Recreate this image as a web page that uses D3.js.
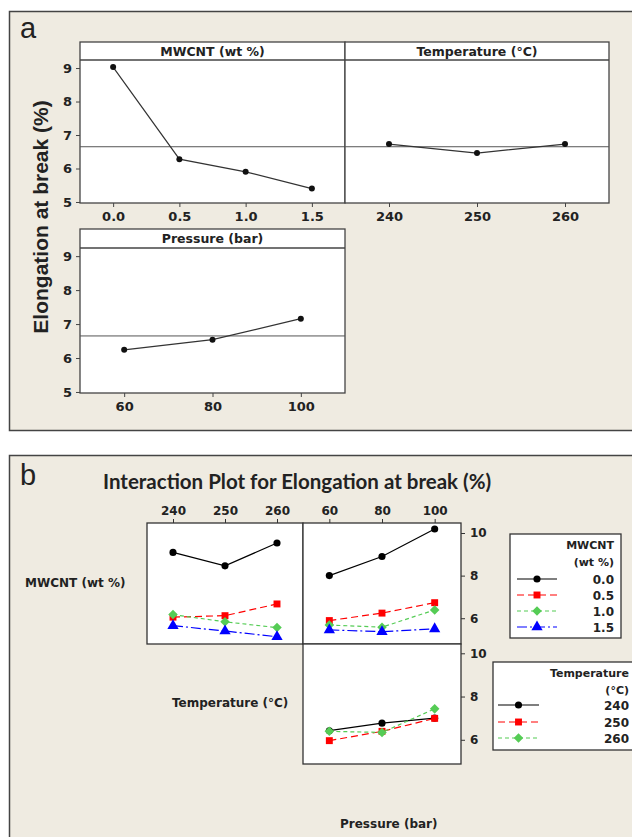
<!DOCTYPE html>
<html>
<head>
<meta charset="utf-8">
<script src="https://cdn.jsdelivr.net/npm/d3@7"></script>
<style>
  body { margin: 0; background: #fff; }
  svg text { font-family: "DejaVu Sans", sans-serif; font-weight: bold; fill: #222; }
</style>
</head>
<body>
<div id="chart"></div>
<script>
// ---- data ----
const mwcntLevels = ["0.0", "0.5", "1.0", "1.5"];
const tempLevels = ["240", "250", "260"];
const pressLevels = ["60", "80", "100"];

// main effects, panel a
const mainMwcnt = [9.03, 6.28, 5.90, 5.40];
const mainTemp = [6.73, 6.46, 6.73];
const mainPress = [6.24, 6.54, 7.16];
const grandMean = 6.65;
const mainTicks = [5, 6, 7, 8, 9];

// interaction means, panel b (rows = series level, cols = x level)
const mwcntByTemp = [[9.09, 8.46, 9.53], [6.05, 6.12, 6.67], [6.17, 5.83, 5.56], [5.65, 5.40, 5.13]];
const mwcntByPress = [[8.00, 8.90, 10.19], [5.89, 6.24, 6.73], [5.68, 5.58, 6.39], [5.45, 5.37, 5.50]];
const tempByPress = [[6.42, 6.77, 7.00], [5.96, 6.39, 6.99], [6.39, 6.34, 7.43]];
const interTicks = [6, 8, 10];

// series styles
const colors = ["#000000", "#ff0000", "#55cc55", "#0000ff"];
const dashes = [null, "7,4", "4,3", "10,3,2,3"];
const symbols = [d3.symbolCircle, d3.symbolSquare, d3.symbolDiamond2 || d3.symbolDiamond, d3.symbolTriangle];
const symSize = [40, 48, 58, 55];

const W = 632, H = 837;
const bg = "#efebe1";
const fmt = d3.format("d");
const svg = d3.select("#chart").append("svg").attr("width", W).attr("height", H);

// ---------- panel a ----------
svg.append("rect").attr("x", 9.5).attr("y", 11.5).attr("width", 640).attr("height", 419)
  .attr("fill", bg).attr("stroke", "#444").attr("stroke-width", 1.5);
svg.append("text").attr("x", 20).attr("y", 38).attr("font-size", 29)
  .style("font-family", "Liberation Sans, Arial, sans-serif").style("font-weight", "normal").text("a");

const mainY = (top, bottom) => d3.scaleLinear().domain([4.97, 9.24]).range([bottom, top]);

function mainPanel(x0, x1, boxTop, headTop, bottom, levels, values, title, leftAxis) {
  const g = svg.append("g");
  const x = d3.scalePoint().domain(levels).range([x0, x1]).padding(0.5);
  const y = mainY(headTop, bottom);
  g.append("rect").attr("x", x0).attr("y", boxTop).attr("width", x1 - x0).attr("height", bottom - boxTop)
    .attr("fill", "#fff").attr("stroke", "#444").attr("stroke-width", 1.3);
  g.append("line").attr("x1", x0).attr("x2", x1).attr("y1", headTop).attr("y2", headTop)
    .attr("stroke", "#444").attr("stroke-width", 1.3);
  g.append("text").attr("x", (x0 + x1) / 2).attr("y", (boxTop + headTop) / 2 + 4.5)
    .attr("text-anchor", "middle").attr("font-size", 12.5).text(title);
  g.append("line").attr("x1", x0).attr("x2", x1).attr("y1", y(grandMean)).attr("y2", y(grandMean))
    .attr("stroke", "#555").attr("stroke-width", 1);
  const pts = levels.map((l, i) => [x(l), y(values[i])]);
  g.append("path").attr("d", d3.line()(pts)).attr("fill", "none").attr("stroke", "#333").attr("stroke-width", 1.2);
  g.selectAll("circle.pt").data(pts).join("circle").attr("cx", d => d[0]).attr("cy", d => d[1])
    .attr("r", 3).attr("fill", "#111");
  const xa = g.append("g").attr("transform", `translate(0,${bottom})`)
    .call(d3.axisBottom(x).tickSize(4).tickPadding(5));
  xa.select(".domain").remove();
  xa.selectAll("text").attr("font-size", 13).attr("fill", "#222");
  xa.selectAll("line").attr("stroke", "#444");
  if (leftAxis) {
    const ya = g.append("g").attr("transform", `translate(${x0},0)`)
      .call(d3.axisLeft(y).tickValues(mainTicks).tickFormat(fmt).tickSize(4).tickPadding(4));
    ya.select(".domain").remove();
    ya.selectAll("text").attr("font-size", 13).attr("fill", "#222");
    ya.selectAll("line").attr("stroke", "#444");
  }
}

mainPanel(80, 345, 42, 60, 203, mwcntLevels, mainMwcnt, "MWCNT (wt %)", true);
mainPanel(345, 609, 42, 60, 203, tempLevels, mainTemp, "Temperature (°C)", false);
mainPanel(80, 345, 229, 248, 393, pressLevels, mainPress, "Pressure (bar)", true);

svg.append("text").attr("transform", "translate(48,217) rotate(-90)").attr("text-anchor", "middle")
  .attr("font-size", 21).style("font-family", "Liberation Sans, Arial, sans-serif")
  .text("Elongation at break (%)");

// ---------- panel b ----------
svg.append("rect").attr("x", 9.5).attr("y", 455.5).attr("width", 640).attr("height", 400)
  .attr("fill", bg).attr("stroke", "#444").attr("stroke-width", 1.5);
svg.append("text").attr("x", 20).attr("y", 485).attr("font-size", 29)
  .style("font-family", "Liberation Sans, Arial, sans-serif").style("font-weight", "normal").text("b");
svg.append("text").attr("x", 103).attr("y", 489).attr("font-size", 20.5)
  .style("font-family", "Lato, sans-serif").style("font-weight", "bold")
  .text("Interaction Plot for Elongation at break (%)");

function interPanel(x0, x1, top, bottom, domain, levels, rows, topAxis) {
  const g = svg.append("g");
  const x = d3.scalePoint().domain(levels).range([x0, x1]).padding(0.5);
  const y = d3.scaleLinear().domain(domain).range([bottom, top]);
  g.append("rect").attr("x", x0).attr("y", top).attr("width", x1 - x0).attr("height", bottom - top)
    .attr("fill", "#fff").attr("stroke", "#333").attr("stroke-width", 1.3);
  rows.forEach((vals, s) => {
    const pts = levels.map((l, i) => [x(l), y(vals[i])]);
    g.append("path").attr("d", d3.line()(pts)).attr("fill", "none")
      .attr("stroke", colors[s]).attr("stroke-width", 1.2).attr("stroke-dasharray", dashes[s]);
    g.selectAll(null).data(pts).join("path")
      .attr("transform", d => `translate(${d[0]},${d[1]})`)
      .attr("d", d3.symbol(symbols[s], symSize[s])).attr("fill", colors[s]);
  });
  if (topAxis) {
    const xa = g.append("g").attr("transform", `translate(0,${top})`)
      .call(d3.axisTop(x).tickSize(4).tickPadding(4));
    xa.select(".domain").remove();
    xa.selectAll("text").attr("font-size", 12).attr("fill", "#222");
    xa.selectAll("line").attr("stroke", "#333");
  }
  return y;
}

function rightAxis(y, x) {
  const ya = svg.append("g").attr("transform", `translate(${x},0)`)
    .call(d3.axisRight(y).tickValues(interTicks).tickFormat(fmt).tickSize(4).tickPadding(5));
  ya.select(".domain").remove();
  ya.selectAll("text").attr("font-size", 12).attr("fill", "#222");
  ya.selectAll("line").attr("stroke", "#333");
}

interPanel(147, 303, 523, 644, [4.79, 10.47], tempLevels, mwcntByTemp, true);
const yTop = interPanel(303, 461, 523, 644, [4.79, 10.47], pressLevels, mwcntByPress, true);
const yBot = interPanel(303, 461, 644, 764, [4.88, 10.43], pressLevels, tempByPress, false);
rightAxis(yTop, 461);
rightAxis(yBot, 461);

svg.append("text").attr("x", 25).attr("y", 587).attr("font-size", 12).text("MWCNT (wt %)");
svg.append("text").attr("x", 172).attr("y", 707).attr("font-size", 12).text("Temperature (°C)");
svg.append("text").attr("x", 340).attr("y", 828).attr("font-size", 12).text("Pressure (bar)");

// legends
function legend(x0, top, w, h, titleLines, labels, lineX0, lineX1, textX, rowY) {
  const g = svg.append("g");
  g.append("rect").attr("x", x0).attr("y", top).attr("width", w).attr("height", h)
    .attr("fill", "#fff").attr("stroke", "#333").attr("stroke-width", 1.3);
  titleLines.forEach((t, i) => {
    g.append("text").attr("x", textX).attr("y", top + 15 + i * 17).attr("text-anchor", "end")
      .attr("font-size", 11).text(t);
  });
  labels.forEach((l, s) => {
    const yy = rowY[s];
    g.append("line").attr("x1", lineX0).attr("x2", lineX1).attr("y1", yy).attr("y2", yy)
      .attr("stroke", colors[s]).attr("stroke-width", 1.2).attr("stroke-dasharray", dashes[s]);
    g.append("path").attr("transform", `translate(${(lineX0 + lineX1) / 2},${yy})`)
      .attr("d", d3.symbol(symbols[s], symSize[s])).attr("fill", colors[s]);
    g.append("text").attr("x", textX).attr("y", yy + 4.5).attr("text-anchor", "end")
      .attr("font-size", 12).text(l);
  });
}

legend(510, 534, 111, 104, ["MWCNT", "(wt %)"], mwcntLevels, 517, 557, 614, [579, 595, 611, 627]);
legend(493, 662, 160, 88, ["Temperature", "(°C)"], tempLevels, 498, 539, 629, [705, 722, 738]);
</script>
</body>
</html>
